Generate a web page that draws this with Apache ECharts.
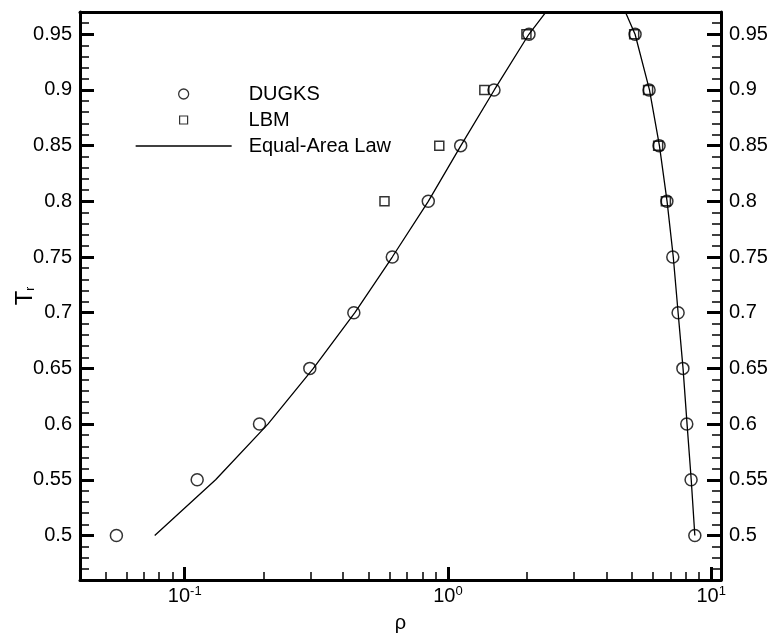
<!DOCTYPE html>
<html>
<head>
<meta charset="utf-8">
<script src="https://cdn.jsdelivr.net/npm/echarts@6/dist/echarts.min.js"></script>
<style>
html,body{margin:0;padding:0;background:#fff;}
#chart{width:774px;height:634px;}
</style>
</head>
<body>
<div id="chart"></div>
<script>
// ---- data ----
const dugksLeftRho  = [0.055, 0.1115, 0.1923, 0.2987, 0.439, 0.6145, 0.842, 1.118, 1.496, 2.032];
const dugksLeftT    = [0.5, 0.55, 0.6, 0.65, 0.7, 0.75, 0.8, 0.85, 0.9, 0.95];
const dugksRightRho = [8.67, 8.39, 8.08, 7.81, 7.49, 7.15, 6.79, 6.34, 5.81, 5.14];
const dugksRightT   = [0.5, 0.55, 0.6, 0.65, 0.7, 0.75, 0.8, 0.85, 0.9, 0.95];
const lbmRho = [0.574, 0.927, 1.375, 1.987, 6.73, 6.29, 5.76, 5.1];
const lbmT   = [0.8, 0.85, 0.9, 0.95, 0.8, 0.85, 0.9, 0.95];
const eqRho = [0.0769, 0.131, 0.207, 0.308, 0.443, 0.6145, 0.842, 1.12, 1.5, 2.03, 2.34, 2.9, 3.4, 4.1, 4.74, 5.14, 5.83, 6.36, 6.8, 7.18, 7.49, 7.82, 8.1, 8.4, 8.67];
const eqT   = [0.5, 0.55, 0.6, 0.65, 0.7, 0.75, 0.8, 0.85, 0.9, 0.95, 0.969, 0.99, 1.0, 0.99, 0.969, 0.95, 0.9, 0.85, 0.8, 0.75, 0.7, 0.65, 0.6, 0.55, 0.5];

const xMajorTicks = [0.1, 1, 10];
const xMinorTicks = [0.05, 0.06, 0.07, 0.08, 0.09, 0.2, 0.3, 0.4, 0.5, 0.6, 0.7, 0.8, 0.9, 2, 3, 4, 5, 6, 7, 8, 9];
const yMajorTicks = [0.5, 0.55, 0.6, 0.65, 0.7, 0.75, 0.8, 0.85, 0.9, 0.95];
const yMinorTicks = [0.47, 0.48, 0.49, 0.51, 0.52, 0.53, 0.54, 0.56, 0.57, 0.58, 0.59, 0.61, 0.62, 0.63, 0.64,
  0.66, 0.67, 0.68, 0.69, 0.71, 0.72, 0.73, 0.74, 0.76, 0.77, 0.78, 0.79, 0.81, 0.82, 0.83, 0.84,
  0.86, 0.87, 0.88, 0.89, 0.91, 0.92, 0.93, 0.94, 0.96];

const X_MIN = 0.04, X_MAX = 10.9, Y_MIN = 0.46, Y_MAX = 0.97;
const FONT = '"Liberation Sans", Arial, Helvetica, sans-serif';

function pairs(xs, ys) { return xs.map((x, i) => [x, ys[i]]); }

const chart = echarts.init(document.getElementById('chart'), null, {renderer: 'canvas'});

const black = '#000';
const baseX = {
  type: 'log', logBase: 10, min: X_MIN, max: X_MAX, gridIndex: 0,
  splitLine: {show: false}, minorTick: {show: false}, minorSplitLine: {show: false}
};
const baseY = {
  type: 'value', min: Y_MIN, max: Y_MAX, gridIndex: 0,
  splitLine: {show: false}, minorTick: {show: false}
};
const legendText = {fontFamily: FONT, fontSize: 20, color: black};

const option = {
  backgroundColor: '#fff',
  animation: false,
  textStyle: {fontFamily: FONT, color: black},
  grid: {left: 80, right: 53, top: 12, bottom: 54, containLabel: false, outerBoundsMode: 'none'},
  legend: [
    {
      orient: 'vertical', left: 178, top: 84, padding: 0,
      itemWidth: 10, itemHeight: 10,
      textStyle: Object.assign({padding: [0, 0, 0, 55]}, legendText),
      itemStyle: {borderWidth: 1.3},
      data: ['DUGKS']
    },
    {
      orient: 'vertical', left: 179, top: 110, padding: 0,
      itemWidth: 8, itemHeight: 8,
      textStyle: Object.assign({padding: [0, 0, 0, 56]}, legendText),
      itemStyle: {borderWidth: 1.2},
      data: ['LBM']
    },
    {
      orient: 'vertical', left: 135, top: 136, padding: 0,
      itemWidth: 96, itemHeight: 10,
      textStyle: Object.assign({padding: [0, 0, 0, 12]}, legendText),
      itemStyle: {color: 'rgba(0,0,0,0)', borderColor: 'rgba(0,0,0,0)', borderWidth: 0},
      lineStyle: {color: black, width: 1.3},
      data: ['Equal-Area Law']
    }
  ],
  xAxis: [
    Object.assign({}, baseX, {
      position: 'bottom',
      name: 'ρ', nameLocation: 'middle', nameGap: 33, nameMoveOverlap: false,
      nameTextStyle: {fontFamily: FONT, fontSize: 20, color: black},
      axisLine: {show: true, lineStyle: {color: black, width: 3}},
      axisTick: {show: true, inside: true, length: 13, lineStyle: {color: black, width: 3}, customValues: xMajorTicks},
      axisLabel: {
        show: true, margin: 5, customValues: xMajorTicks,
        formatter: function (v) { return '{b|10}{s|' + Math.round(Math.log10(v)) + '}'; },
        rich: {
          b: {fontFamily: FONT, fontSize: 20, color: black, lineHeight: 22},
          s: {fontFamily: FONT, fontSize: 13, color: black, verticalAlign: 'top', lineHeight: 13}
        }
      }
    }),
    Object.assign({}, baseX, {
      position: 'bottom',
      axisLine: {show: false},
      axisTick: {show: true, inside: true, length: 8, lineStyle: {color: black, width: 1.5}, customValues: xMinorTicks},
      axisLabel: {show: false}
    }),
    Object.assign({}, baseX, {
      position: 'top',
      axisLine: {show: true, lineStyle: {color: black, width: 3}},
      axisTick: {show: false},
      axisLabel: {show: false}
    })
  ],
  yAxis: [
    Object.assign({}, baseY, {
      position: 'left',
      name: '{t|T}{s|r}', nameLocation: 'middle', nameGap: 43, nameRotate: 90, nameMoveOverlap: false,
      nameTextStyle: {
        rich: {
          t: {fontFamily: FONT, fontSize: 24, color: black},
          s: {fontFamily: FONT, fontSize: 12, color: black, verticalAlign: 'bottom'}
        }
      },
      axisLine: {show: true, lineStyle: {color: black, width: 3}},
      axisTick: {show: true, inside: true, length: 14, lineStyle: {color: black, width: 3}, customValues: yMajorTicks},
      axisLabel: {show: true, margin: 8, fontFamily: FONT, fontSize: 20, color: black, customValues: yMajorTicks}
    }),
    Object.assign({}, baseY, {
      position: 'left',
      axisLine: {show: false},
      axisTick: {show: true, inside: true, length: 9, lineStyle: {color: black, width: 1.5}, customValues: yMinorTicks},
      axisLabel: {show: false}
    }),
    Object.assign({}, baseY, {
      position: 'right',
      axisLine: {show: true, lineStyle: {color: black, width: 3}},
      axisTick: {show: true, inside: true, length: 14, lineStyle: {color: black, width: 3}, customValues: yMajorTicks},
      axisLabel: {show: true, margin: 8, fontFamily: FONT, fontSize: 20, color: black, customValues: yMajorTicks}
    }),
    Object.assign({}, baseY, {
      position: 'right',
      axisLine: {show: false},
      axisTick: {show: true, inside: true, length: 9, lineStyle: {color: black, width: 1.5}, customValues: yMinorTicks},
      axisLabel: {show: false}
    })
  ],
  series: [
    {
      name: 'Equal-Area Law', type: 'line', xAxisIndex: 0, yAxisIndex: 0,
      data: pairs(eqRho, eqT), symbol: 'none', showSymbol: false, smooth: false, clip: true,
      lineStyle: {color: black, width: 1.3}, itemStyle: {color: black}, z: 2
    },
    {
      name: 'LBM', type: 'scatter', xAxisIndex: 0, yAxisIndex: 0,
      data: pairs(lbmRho, lbmT), symbol: 'rect', symbolSize: 9,
      itemStyle: {color: 'rgba(0,0,0,0)', borderColor: black, borderWidth: 1.5}, z: 3
    },
    {
      name: 'DUGKS', type: 'scatter', xAxisIndex: 0, yAxisIndex: 0,
      data: pairs(dugksLeftRho, dugksLeftT).concat(pairs(dugksRightRho, dugksRightT)),
      symbol: 'circle', symbolSize: 12,
      itemStyle: {color: 'rgba(0,0,0,0)', borderColor: black, borderWidth: 1.5}, z: 4
    }
  ]
};
chart.setOption(option);
</script>
</body>
</html>
